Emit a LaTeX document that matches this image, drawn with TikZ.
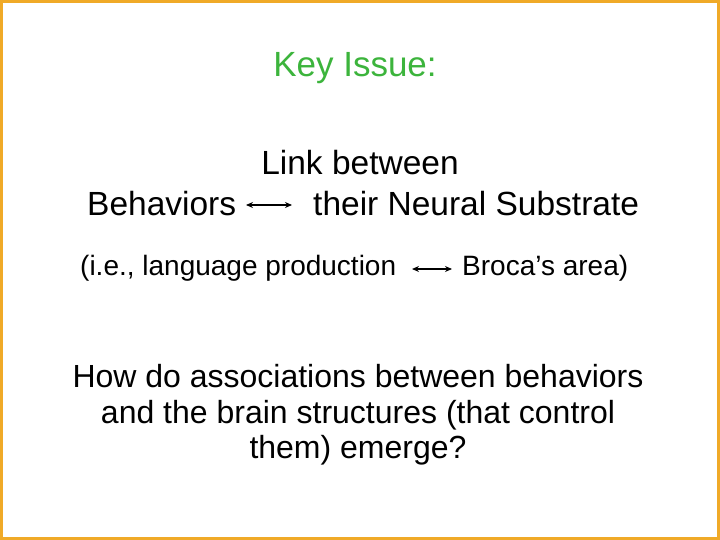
\documentclass[tikz,border=0pt]{standalone}
\usepackage{fontspec}
\setmainfont{Liberation Sans}
\usetikzlibrary{arrows.meta}
\begin{document}
\begin{tikzpicture}[x=1pt,y=-1pt,
  t/.style={inner sep=0pt,font=\fontsize{33.5}{38}\selectfont},
  s/.style={inner sep=0pt,font=\fontsize{28}{32}\selectfont},
  arr/.style={{Stealth[length=7pt,width=6pt]}-{Stealth[length=7pt,width=6pt]},line width=1.2pt}]
\useasboundingbox (0,0) rectangle (720,540);
\draw[draw={rgb,255:red,240;green,170;blue,40},line width=3pt] (1.5,1.5) rectangle (718.5,538.5);
\node[inner sep=0pt,font=\fontsize{35}{40}\selectfont,text={rgb,255:red,60;green,180;blue,60}] (key) at (355,68) {Key Issue:};
\node[t] (link) at (360,163) {Link between};
\node[t,anchor=west] (beh) at (87,204) {Behaviors};
\node[t,anchor=west] (sub) at (313,204) {their Neural Substrate};
\coordinate (a1) at (246,205); \coordinate (a2) at (292,205);
\draw[arr] (a1) -- (a2);
\node[s,anchor=west] (ie) at (80,268) {(i.e., language production};
\node[s,anchor=west] (bro) at (462,268) {Broca’s area)};
\coordinate (b1) at (412,269); \coordinate (b2) at (452,269);
\draw[arr] (b1) -- (b2);
\node[inner sep=0pt,align=center,font=\fontsize{32}{35.5}\selectfont] (q) at (358,415) {How do associations between behaviors\\and the brain structures (that control\\them) emerge?};
\end{tikzpicture}
\end{document}
